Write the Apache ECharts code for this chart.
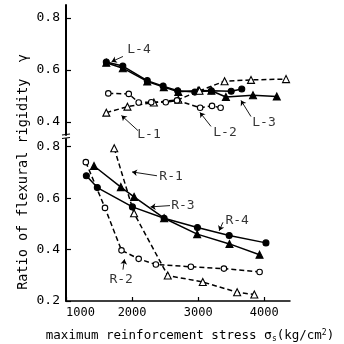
<!DOCTYPE html>
<html><head><meta charset="utf-8">
<script src="https://cdn.jsdelivr.net/npm/echarts@6/dist/echarts.min.js"></script>
<style>html,body{margin:0;padding:0;background:#fff}#c{width:344px;height:344px}</style>
</head><body><div id="c"></div>
<script>
// ---- data ----
const xTicks = [1000, 2000, 3000, 4000];
const topTicks = [0.4, 0.6, 0.8];
const bottomTicks = [0.2, 0.4, 0.6, 0.8];

// top panel (L series)
const L1 = [[1610,0.436],[1930,0.459],[2330,0.475],[2700,0.486],[3020,0.52],[3400,0.557],[3800,0.562],[4330,0.565]];
const L2 = [[1640,0.51],[1950,0.508],[2100,0.475],[2290,0.476],[2510,0.476],[2680,0.483],[3030,0.455],[3210,0.462],[3340,0.455]];
const L3 = [[1610,0.628],[1860,0.607],[2230,0.556],[2480,0.534],[2700,0.516],[3000,0.521],[3200,0.52],[3420,0.496],[3830,0.503],[4190,0.498]];
const L4 = [[1610,0.631],[1860,0.615],[2230,0.559],[2470,0.538],[2690,0.52],[2950,0.515],[3200,0.52],[3500,0.518],[3660,0.527]];

// bottom panel (R series)
const R1 = [[1730,0.794],[2030,0.541],[2540,0.299],[3070,0.274],[3590,0.234],[3850,0.225]];
const R2 = [[1300,0.74],[1590,0.562],[1840,0.397],[2100,0.364],[2360,0.342],[2890,0.333],[3390,0.326],[3930,0.313]];
const R3 = [[1424,0.725],[1830,0.643],[2030,0.605],[2485,0.522],[2985,0.46],[3474,0.422],[3929,0.38]];
const R4 = [[1308,0.687],[1474,0.641],[2005,0.566],[2485,0.522],[2989,0.486],[3470,0.455],[4026,0.426]];

// annotations: label text, panel, label anchor, arrow from -> to (data coordinates)
const notes = [
  {name:'L-4', panel:0, at:[2105,0.677], from:[1862,0.652], to:[1690,0.632]},
  {name:'L-1', panel:0, at:[2256,0.352], from:[2089,0.367], to:[1840,0.425]},
  {name:'L-2', panel:0, at:[3406,0.36], from:[3194,0.383], to:[3027,0.437]},
  {name:'L-3', panel:0, at:[3996,0.398], from:[3799,0.421], to:[3648,0.483]},
  {name:'R-1', panel:1, at:[2590,0.685], from:[2377,0.687], to:[2000,0.702]},
  {name:'R-3', panel:1, at:[2770,0.570], from:[2574,0.571], to:[2280,0.566]},
  {name:'R-4', panel:1, at:[3590,0.513], from:[3375,0.506], to:[3318,0.473]},
  {name:'R-2', panel:1, at:[1835,0.282], from:[1862,0.322], to:[1885,0.362]}
];

// ---- chart ----
const FONT = '"DejaVu Sans Mono", monospace';
const chart = echarts.init(document.getElementById('c'), null, {renderer:'canvas'});

function lineSeries(data, panel, dashed, symbol, filled, size) {
  return {
    type:'line', data, xAxisIndex:panel, yAxisIndex:panel,
    symbol, symbolSize:size, showAllSymbol:true, silent:true, z: filled ? 3 : 4,
    lineStyle:{color:'#000', width:1.5, type: dashed ? [5,3] : 'solid'},
    itemStyle:{color: filled ? '#000' : '#fff', borderColor:'#000', borderWidth:1.1},
    animation:false
  };
}

const series = [
  lineSeries(L1, 0, true, 'triangle', false, 7),
  lineSeries(L2, 0, true, 'circle', false, 5.5),
  lineSeries(L3, 0, false, 'triangle', true, 7),
  lineSeries(L4, 0, false, 'circle', true, 6),
  lineSeries(R1, 1, true, 'triangle', false, 7),
  lineSeries(R2, 1, true, 'circle', false, 5.5),
  lineSeries(R3, 1, false, 'triangle', true, 7),
  lineSeries(R4, 1, false, 'circle', true, 6)
];

[0,1].forEach(p => {
  const ns = notes.filter(n => n.panel === p);
  series.push({
    type:'lines', coordinateSystem:'cartesian2d', xAxisIndex:p, yAxisIndex:p,
    polyline:false, silent:true, animation:false,
    symbol:['none','arrow'], symbolSize:[0,5],
    lineStyle:{color:'#000', width:0.9, opacity:1},
    data: ns.map(n => ({coords:[n.from, n.to]}))
  });
  series.push({
    type:'scatter', xAxisIndex:p, yAxisIndex:p, symbolSize:0, clip:false, silent:true, animation:false,
    label:{show:true, position:'inside', formatter:'{b}', color:'#000', fontFamily:FONT, fontSize:13},
    data: ns.map(n => ({name:n.name, value:n.at}))
  });
});

const yFmt = v => Number(v).toFixed(1);
const xFmt = v => String(Math.round(Number(v)));

chart.setOption({
  backgroundColor:'#fff',
  animation:false,
  grid:[
    {left:66, top:5, width:224, height:130},
    {left:66, top:139, width:224, height:165}
  ],
  xAxis:[
    {gridIndex:0, type:'value', min:1000, max:4390, show:false, splitLine:{show:false}},
    {gridIndex:1, type:'value', min:1000, max:4390, interval:1000,
     axisLine:{lineStyle:{color:'#000', width:1.5}},
     axisTick:{show:true, inside:true, length:4, lineStyle:{color:'#000', width:1.2}, customValues:xTicks},
     axisLabel:{formatter:xFmt, color:'#000', fontFamily:FONT, fontSize:12, margin:6,
       showMaxLabel:false, alignMinLabel:'left'},
     splitLine:{show:false},
     name:'maximum reinforcement stress {s|σ}{sub|s}(kg/cm{sup|2})',
     nameLocation:'middle', nameGap:28,
     nameTextStyle:{color:'#000', fontFamily:FONT, fontSize:12.5, padding:[0,0,0,24],
       rich:{s:{fontFamily:FONT, fontSize:13, color:'#000'},
             sub:{fontFamily:FONT, fontSize:8, color:'#000', verticalAlign:'bottom', padding:[6,0,0,0]},
             sup:{fontFamily:FONT, fontSize:8, color:'#000', verticalAlign:'top', padding:[0,0,6,0]}}}
    }
  ],
  yAxis:[
    {gridIndex:0, type:'value', min:0.35, max:0.85,
     axisLine:{show:true, lineStyle:{color:'#000', width:2}},
     axisTick:{show:true, inside:true, length:5, lineStyle:{color:'#000', width:1.2}, customValues:topTicks},
     axisLabel:{customValues:topTicks, formatter:yFmt, color:'#000', fontFamily:FONT, fontSize:13, margin:6},
     splitLine:{show:false}},
    {gridIndex:1, type:'value', min:0.2, max:0.83,
     axisLine:{show:true, lineStyle:{color:'#000', width:2}},
     axisTick:{show:true, inside:true, length:5, lineStyle:{color:'#000', width:1.2}, customValues:bottomTicks},
     axisLabel:{customValues:bottomTicks, formatter:yFmt, color:'#000', fontFamily:FONT, fontSize:13, margin:6},
     splitLine:{show:false}}
  ],
  graphic:[
    {type:'text', x:23, y:172, rotation:Math.PI/2,
     style:{text:'Ratio of flexural rigidity  γ', font:'13.5px ' + FONT, fill:'#000',
            textAlign:'center', textVerticalAlign:'middle', align:'center', verticalAlign:'middle'}},
    {type:'line', shape:{x1:62, y1:135, x2:70, y2:134}, style:{stroke:'#000', lineWidth:1.2}},
    {type:'line', shape:{x1:62, y1:138.5, x2:70, y2:137.5}, style:{stroke:'#000', lineWidth:1.2}}
  ],
  series
});
</script>
</body></html>
